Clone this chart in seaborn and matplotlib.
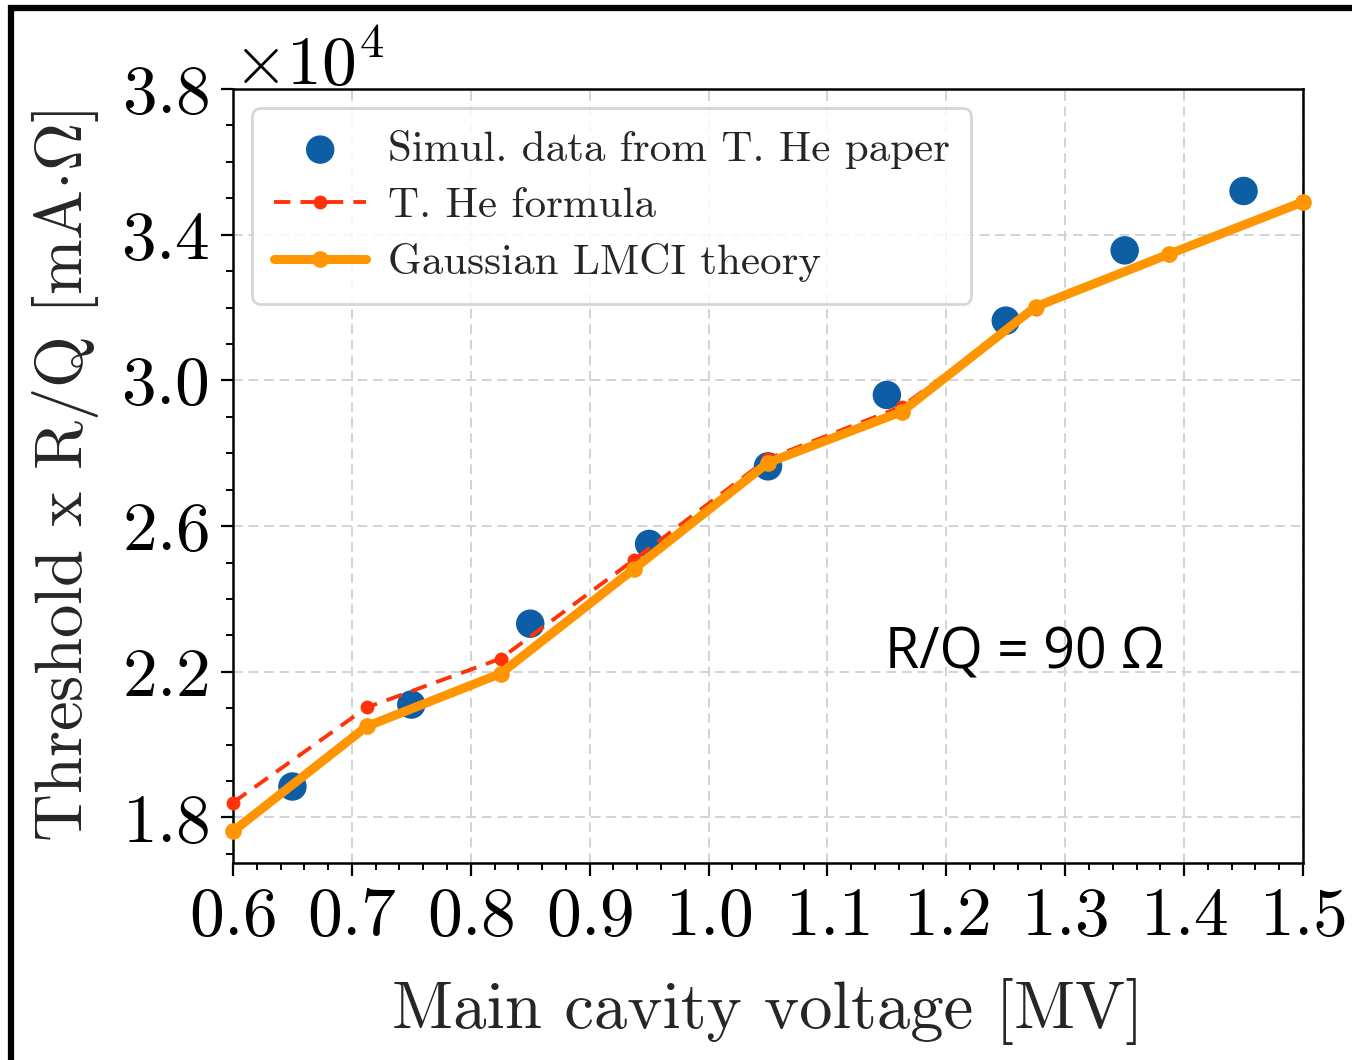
import matplotlib
matplotlib.use("Agg")
import matplotlib.pyplot as plt
from matplotlib.patches import Rectangle
from matplotlib.ticker import MultipleLocator
import numpy as np
import pandas as pd
import seaborn as sns

# Simulation points (voltage in MV, threshold x R/Q in mA*Ohm)
sim_voltage = [0.65, 0.75, 0.85, 0.95, 1.05, 1.15, 1.25, 1.35, 1.45]
sim_threshold = [18850, 21100, 23320, 25510, 27640, 29600, 31640, 33570, 35200]

# Analytical curves evaluated on a common voltage grid
theory_voltage = [0.6, 0.7125, 0.825, 0.9375, 1.05, 1.1625, 1.275, 1.3875, 1.5]
he_formula = [18410, 21020, 22360, 25080, 27850, 29280, 31960, 33430, 34870]
gaussian_lmci = [17620, 20500, 21950, 24830, 27740, 29140, 32020, 33470, 34900]

sns.set_theme(style="white")
plt.rcParams["font.family"] = ["cmr10", "DejaVu Sans"]
plt.rcParams["mathtext.fontset"] = "cm"
plt.rcParams["axes.formatter.use_mathtext"] = True
plt.rcParams["axes.unicode_minus"] = False

fig = plt.figure(figsize=(13.52, 10.6), dpi=100)
ax = fig.add_axes([233 / 1352, 197 / 1060, 1070 / 1352, 774 / 1060])

sim_df = pd.DataFrame({"V": sim_voltage, "T": sim_threshold})
he_df = pd.DataFrame({"V": theory_voltage, "T": he_formula})
g_df = pd.DataFrame({"V": theory_voltage, "T": gaussian_lmci})

sns.scatterplot(data=sim_df, x="V", y="T", ax=ax, color="#0e5ea6", s=420,
                edgecolor="none", zorder=3, label="Simul. data from T. He paper",
                clip_on=False)
sns.lineplot(data=he_df, x="V", y="T", ax=ax, color="#ff330a", linewidth=2.8,
             marker="o", markersize=10, markeredgewidth=0, dashes=False,
             zorder=4, label="T. He formula", clip_on=False)
ax.lines[-1].set_linestyle((0, (4.2, 2.6)))
sns.lineplot(data=g_df, x="V", y="T", ax=ax, color="#ff9500", linewidth=6.5,
             marker="o", markersize=12, markeredgewidth=0, zorder=5,
             label="Gaussian LMCI theory", clip_on=False)

ax.set_xlim(0.6, 1.5)
ax.set_ylim(16750, 38000)
ax.xaxis.set_major_locator(MultipleLocator(0.1))
ax.xaxis.set_minor_locator(MultipleLocator(0.02))
ax.yaxis.set_major_locator(MultipleLocator(4000, offset=2000))
ax.yaxis.set_minor_locator(MultipleLocator(1000))
ax.ticklabel_format(axis="y", style="sci", scilimits=(4, 4), useMathText=True)

ax.grid(True, which="major", color="#d3d3d3", linestyle=(0, (5, 3)), linewidth=1.4)
for sp in ax.spines.values():
    sp.set_color("black")
    sp.set_linewidth(1.8)

ax.tick_params(axis="both", which="major", direction="out", length=9, width=1.6,
               labelsize=50, color="black", labelcolor="black", pad=8,
               bottom=True, left=True)
ax.tick_params(axis="both", which="minor", direction="out", length=5, width=1.4,
               color="black", bottom=True, left=True)
ax.yaxis.get_offset_text().set_fontsize(50)

ax.set_xlabel("Main cavity voltage [MV]", fontsize=48, labelpad=22)
ax.set_ylabel(r"Threshold x R/Q [mA$\cdot\Omega$]", fontsize=48, labelpad=14)

leg = ax.legend(loc="upper left", fontsize=31, frameon=True, fancybox=True,
                borderaxespad=0.45, handlelength=2.15, handletextpad=0.5,
                labelspacing=0.42, borderpad=0.5)
leg.get_frame().set_edgecolor("#cfcfcf")
leg.get_frame().set_linewidth(2.0)
leg.get_frame().set_alpha(0.85)

ax.text(1.148, 22100, "R/Q = 90 Ω", fontsize=40, family=["Open Sans", "DejaVu Sans"],
        color="black", ha="left", va="baseline")

# Border around the figure
fig.add_artist(Rectangle((11 / 1352, -0.2), 1.3, 1.2 - 7.5 / 1060,
                         transform=fig.transFigure, fill=False,
                         edgecolor="black", linewidth=4.5))

fig.savefig("out.png", dpi=100)
